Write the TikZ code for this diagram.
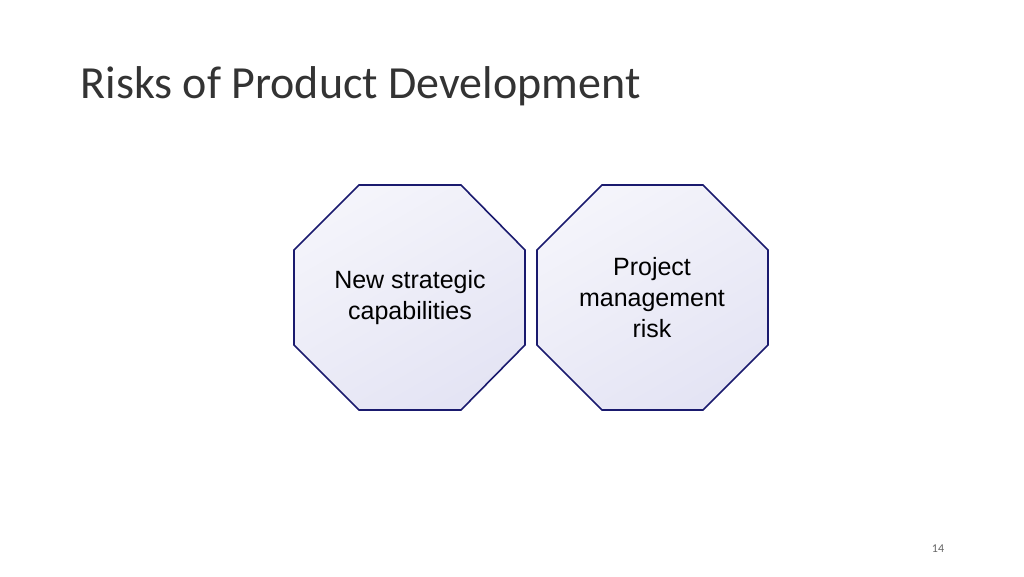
\documentclass[tikz,border=0pt]{standalone}
\usepackage{fontspec}
\setmainfont{Liberation Sans}
\newfontfamily\titlefont{Carlito}
\definecolor{navy}{HTML}{1A1A6E}
\definecolor{lav}{HTML}{E4E4F4}
\begin{document}
\begin{tikzpicture}[x=1pt,y=-1pt,
  oct/.style={draw=navy,line width=1.6pt,top color=white!60!lav,bottom color=lav,shading angle=30},
  lbl/.style={align=center,font=\fontsize{25}{31}\selectfont,text=black}]
\useasboundingbox (0,0) rectangle (1024,576);
\path (77,86) node[anchor=west,font=\titlefont\fontsize{46}{54}\selectfont,text=black!80] (title) {Risks of Product Development};
\draw[oct] (359,185) -- (461,185) -- (525,250) -- (525,345) -- (461,410) -- (359,410) -- (294,345) -- (294,250) -- cycle;
\draw[oct] (602,185) -- (703,185) -- (768,250) -- (768,345) -- (703,410) -- (602,410) -- (537,345) -- (537,250) -- cycle;
\node[lbl] (a) at (410,298) {New strategic\\capabilities};
\node[lbl] (b) at (652,298) {Project\\management\\risk};
\node[font=\titlefont\fontsize{12}{14}\selectfont,text=black!60] (p) at (938,549) {14};
\end{tikzpicture}
\end{document}
